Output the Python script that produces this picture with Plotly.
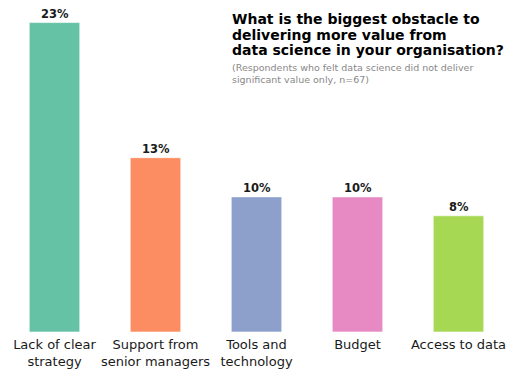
import plotly.graph_objects as go

categories = ["Lack of clear<br>strategy", "Support from<br>senior managers", "Tools and<br>technology", "Budget", "Access to data"]
values = [22.9, 12.9, 10.0, 10.0, 8.6]
value_labels = ["23%", "13%", "10%", "10%", "8%"]
colors = ["#66c2a5", "#fc8d62", "#8da0cb", "#e78ac3", "#a6d854"]

title_lines = ["What is the biggest obstacle to", "delivering more value from", "data science in your organisation?"]
subtitle_lines = ["(Respondents who felt data science did not deliver", "significant value only, n=67)"]

W, H = 514, 374
ML, MR, MT, MB = 4, 5, 5, 42
pw, ph = W - ML - MR, H - MT - MB

def px_x(x):
    return (x - ML) / pw

def px_y(y):
    return (H - MB - y) / ph

xs = list(range(len(categories)))

fig = go.Figure(go.Bar(
    x=xs,
    y=values,
    width=0.5,
    marker=dict(color=colors, line=dict(color="white", width=0.6)),
    hoverinfo="skip",
))

annotations = []
for xi, v, lab in zip(xs, values, value_labels):
    annotations.append(dict(text="<b>" + lab + "</b>", x=xi, y=v, xref="x", yref="y",
                            xanchor="center", yanchor="bottom", yshift=0, showarrow=False,
                            font=dict(family="DejaVu Sans", size=11.5, color="#1a1a1a")))
for line, yc in zip(title_lines, [18.8, 34.5, 50.2]):
    annotations.append(dict(text="<b>" + line + "</b>", x=px_x(230), y=px_y(yc), xref="paper", yref="paper",
                            xanchor="left", yanchor="middle", showarrow=False,
                            font=dict(family="DejaVu Sans", size=14, color="#000000")))
for line, yc in zip(subtitle_lines, [68, 79]):
    annotations.append(dict(text=line, x=px_x(230), y=px_y(yc), xref="paper", yref="paper",
                            xanchor="left", yanchor="middle", showarrow=False,
                            font=dict(family="DejaVu Sans", size=9.5, color="#888888")))

fig.update_layout(
    width=W, height=H,
    margin=dict(l=ML, r=MR, t=MT, b=MB, autoexpand=False),
    paper_bgcolor="white", plot_bgcolor="white",
    showlegend=False,
    annotations=annotations,
    xaxis=dict(range=[-0.5, 4.5], tickmode="array", tickvals=xs, ticktext=categories,
               showgrid=False, zeroline=False, showline=False, ticks="", automargin=False,
               ticklabelstandoff=3,
               tickfont=dict(family="DejaVu Sans", size=13, color="#1a1a1a"), fixedrange=True),
    yaxis=dict(range=[0, 24.2], visible=False, fixedrange=True, automargin=False),
)

fig.write_html("out.html", config={"displayModeBar": False, "staticPlot": True},
               post_script="document.body.style.margin='0';document.body.style.overflow='hidden';")
